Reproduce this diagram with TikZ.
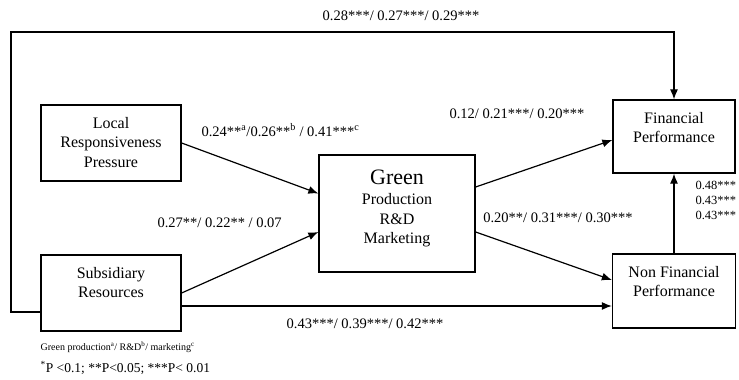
\documentclass[tikz,border=0pt]{standalone}
\usepackage{fontspec}
\setmainfont{Liberation Serif}
\usetikzlibrary{arrows.meta, positioning}

\begin{document}
\begin{tikzpicture}[>={Latex[length=10pt,width=8pt]}, x=1pt, y=1pt, line width=1.2pt, every node/.style={font=\fontsize{14.5}{17}\selectfont}]
    % Define styles for boxes, box texts and path coefficients
    \tikzstyle{block} = [draw, fill=white, rectangle, line width=1.3pt, inner sep=0pt]
    \tikzstyle{boxtext} = [align=center, inner sep=2pt, font=\fontsize{16}{19.5}\selectfont]
    \tikzstyle{coef} = [inner sep=1pt]
    \tikzstyle{note} = [anchor=west, inner sep=0pt]

    \clip (0,0) rectangle (739,380);

    % Boxes placement
    \node [block, minimum width=140, minimum height=76] (local) at (111,237) {};
    \node [block, minimum width=140, minimum height=76] (subs) at (111,87) {};
    \node [block, minimum width=156, minimum height=117] (green) at (397,166.5) {};
    \node [block, minimum width=122, minimum height=73] (fin) at (674,243.5) {};
    \node [block, minimum width=123, minimum height=74] (nonfin) at (674,89) {};

    % Box texts
    \node [boxtext, below=10pt of local.north] (localtext) {Local\\Responsiveness\\Pressure};
    \node [boxtext, below=10pt of subs.north] (substext) {Subsidiary\\Resources};
    \node [boxtext, below=12.5pt of green.north] (greentext) {{\fontsize{22}{26}\selectfont Green}\\[1pt]Production\\R\&D\\Marketing};
    \node [boxtext, below=10pt of fin.north] (fintext) {Financial\\Performance};
    \node [boxtext, below=10pt of nonfin.north] (nonfintext) {Non Financial\\Performance};

    % Draw edges
    \draw[->] (local.east) -- ([yshift=20pt]green.west);
    \draw[->] (subs.east) -- ([yshift=-18.5pt]green.west);
    \draw[->] ([yshift=26.5pt]green.east) -- ([yshift=-3.5pt]fin.west);
    \draw[->] ([yshift=-18.5pt]green.east) -- ([yshift=11pt]nonfin.west);
    \draw[->] ([yshift=-13pt]subs.east) -- ([yshift=-13pt]subs.east -| nonfin.west);
    \draw[->] (nonfin.north) -- (fin.south);

    % Loop from subsidiary resources round the top to financial performance
    \coordinate (loopcorner) at (11,348);
    \draw[->] ([yshift=-19pt]subs.west) -| (loopcorner) -| (fin.north);

    % Path coefficients
    \node [coef] (topcoef) at (401,364) {0.28***/ 0.27***/ 0.29***};
    \node [coef, anchor=west] (lrpcoef) at (200,250) {0.24**\textsuperscript{a}/0.26**\textsuperscript{b} / 0.41***\textsuperscript{c}};
    \node [coef, anchor=west] (srcoef) at (156,157) {0.27**/ 0.22** / 0.07};
    \node [coef] (fpcoef) at (517,266) {0.12/ 0.21***/ 0.20***};
    \node [coef] (nfcoef) at (558,162) {0.20**/ 0.31***/ 0.30***};
    \node [coef] (directcoef) at (365,56) {0.43***/ 0.39***/ 0.42***};
    \node [coef, anchor=west, align=left, font=\fontsize{12.5}{15}\selectfont] (nfpcoef) at (694,180) {0.48***\\0.43***\\0.43***};

    % Notes under the diagram
    \node [note, font=\fontsize{10}{12}\selectfont] (fnletters) at (40,33) {Green production\textsuperscript{a}/ R\&D\textsuperscript{b}/ marketing\textsuperscript{c}};
    \node [note, font=\fontsize{13.5}{15}\selectfont] (fnlevels) at (40,12) {\textsuperscript{*}P <0.1; **P<0.05; ***P< 0.01};
\end{tikzpicture}
\end{document}
